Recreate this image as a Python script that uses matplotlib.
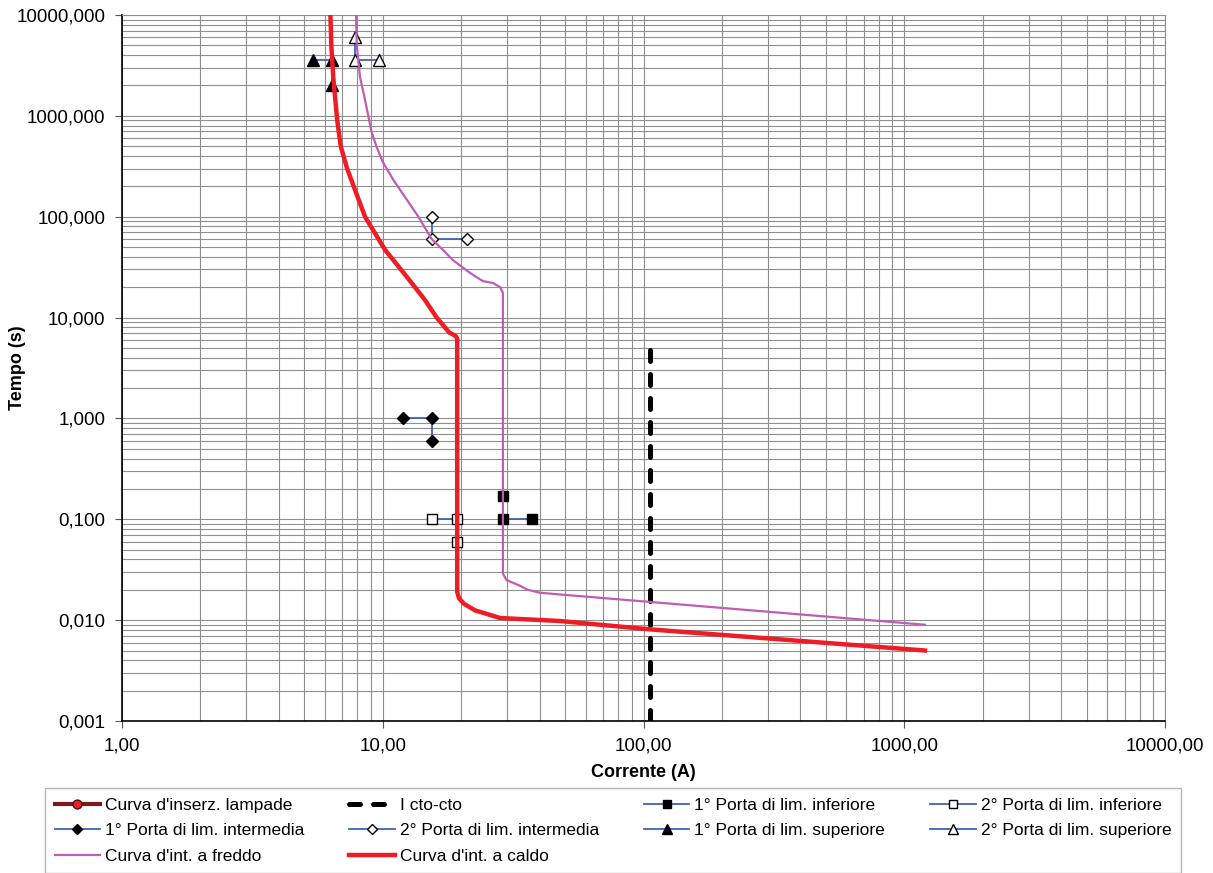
import matplotlib.pyplot as plt
from matplotlib.ticker import FixedLocator, FuncFormatter, LogLocator, NullFormatter

plt.rcParams['font.family'] = ['Liberation Sans', 'DejaVu Sans']

# curva d'intervento a caldo (A, s)
hot_x = [6.3, 6.35, 6.46, 6.69, 6.9, 7.3, 7.83, 8.55, 10.2, 12.2, 14.5, 16.1, 18.0, 19.0, 19.3,
         19.3, 19.6, 20.5, 22.6, 28.2, 47.9, 106, 1200]
hot_y = [10000, 5000, 2400, 900, 500, 300, 184, 100, 47, 26.5, 15, 10, 7.1, 6.6, 6.2,
         0.019, 0.0165, 0.0145, 0.0125, 0.0105, 0.0098, 0.0081, 0.005]

# curva d'intervento a freddo
cold_x = [7.9, 7.95, 8.18, 8.55, 8.8, 9.05, 9.45, 10.0, 11.0, 12.4, 13.7, 15.4, 17.0, 18.6, 21.5,
          24.2, 26.5, 28.2, 28.9, 28.9, 29.8, 33.5, 36, 40, 50, 1200]
cold_y = [10000, 5000, 2430, 1440, 1000, 700, 500, 350, 230, 146, 100, 60, 47, 37, 28,
          23, 22, 20, 17.5, 0.029, 0.025, 0.022, 0.020, 0.0187, 0.0178, 0.009]

# corrente di corto circuito
cto_x = [106, 106]
cto_y = [0.001, 5]

# porte di limitazione
inf1_x, inf1_y = [29, 29, 37.5], [0.17, 0.1, 0.1]
inf2_x, inf2_y = [15.5, 19.3, 19.3], [0.1, 0.1, 0.06]
int1_x, int1_y = [12, 15.5, 15.5], [1, 1, 0.6]
int2_x, int2_y = [15.5, 15.5, 21], [100, 60, 60]
sup1_x, sup1_y = [5.4, 6.4, 6.4], [3600, 3600, 2000]
sup2_x, sup2_y = [7.8, 7.8, 9.7], [6000, 3600, 3600]

blue = '#3f63b4'
grid_col = '#8f8f8f'

fig = plt.figure(figsize=(12.13, 8.73), dpi=100)
ax = fig.add_axes([122 / 1213, 1 - 721 / 873, (1165 - 122) / 1213, (721 - 15) / 873])

h_lamp, = ax.plot([], [], color='#7a1a1a', lw=3, marker='o', ms=8, mfc='#e8202a', mec='#5a0a0a',
                  label="Curva d'inserz. lampade")
h_cto, = ax.plot(cto_x, cto_y, color='black', lw=3.6, dashes=(2.2, 2.6), dash_capstyle='round',
                 label='I cto-cto', zorder=3)
h_inf1, = ax.plot(inf1_x, inf1_y, color=blue, lw=1.3, marker='s', ms=7.5, mfc='black', mec='black',
                  label='1° Porta di lim. inferiore', zorder=2)
h_inf2, = ax.plot(inf2_x, inf2_y, color=blue, lw=1.3, marker='s', ms=7.5, mfc='white', mec='black',
                  label='2° Porta di lim. inferiore', zorder=2)
h_int1, = ax.plot(int1_x, int1_y, color=blue, lw=1.3, marker='D', ms=6.5, mfc='black', mec='black',
                  label='1° Porta di lim. intermedia', zorder=2)
h_int2, = ax.plot(int2_x, int2_y, color=blue, lw=1.3, marker='D', ms=6.5, mfc='white', mec='black',
                  label='2° Porta di lim. intermedia', zorder=2)
h_sup1, = ax.plot(sup1_x, sup1_y, color=blue, lw=1.3, marker='^', ms=8.5, mfc='black', mec='black',
                  label='1° Porta di lim. superiore', zorder=2)
h_sup2, = ax.plot(sup2_x, sup2_y, color=blue, lw=1.3, marker='^', ms=8.5, mfc='white', mec='black',
                  label='2° Porta di lim. superiore', zorder=2)
h_cold, = ax.plot(cold_x, cold_y, color='#c05cb4', lw=1.6, label="Curva d'int. a freddo", zorder=4)
h_hot, = ax.plot(hot_x, hot_y, color='#ee1c25', lw=3.2, label="Curva d'int. a caldo", zorder=5)

ax.set_xscale('log')
ax.set_yscale('log')
ax.set_xlim(1, 10000)
ax.set_ylim(0.001, 10000)

ax.xaxis.set_major_locator(FixedLocator([1, 10, 100, 1000, 10000]))
ax.yaxis.set_major_locator(FixedLocator([0.001, 0.01, 0.1, 1, 10, 100, 1000, 10000]))
ax.xaxis.set_minor_locator(LogLocator(base=10, subs=range(2, 10)))
ax.yaxis.set_minor_locator(LogLocator(base=10, subs=range(2, 10)))
ax.xaxis.set_minor_formatter(NullFormatter())
ax.yaxis.set_minor_formatter(NullFormatter())
ax.xaxis.set_major_formatter(FuncFormatter(lambda v, p: f'{v:.2f}'.replace('.', ',')))
ax.yaxis.set_major_formatter(FuncFormatter(lambda v, p: f'{v:.3f}'.replace('.', ',')))

ax.grid(True, which='both', color=grid_col, lw=0.8)
ax.set_axisbelow(True)
ax.tick_params(which='major', length=5, width=0.8, color='#555555', labelsize=13.5, pad=7)
ax.tick_params(which='minor', length=0)
for s in ['top', 'right']:
    ax.spines[s].set_color(grid_col)
    ax.spines[s].set_linewidth(0.8)
for s in ['left', 'bottom']:
    ax.spines[s].set_color('black')
    ax.spines[s].set_linewidth(1.2)

ax.set_xlabel('Corrente (A)', fontsize=13, fontweight='bold', labelpad=7)
ax.set_ylabel('Tempo (s)', fontsize=13, fontweight='bold')
ax.yaxis.set_label_coords(-0.092, 0.5)

handles = [h_lamp, h_int1, h_cold, h_cto, h_int2, h_hot, h_inf1, h_sup1, h_inf2, h_sup2]
leg = fig.legend(handles=handles, labels=[h.get_label() for h in handles], ncol=4,
                 loc='upper left', bbox_to_anchor=(45 / 1213, 1 - 788 / 873), borderaxespad=0,
                 fontsize=12.5, frameon=True, fancybox=False, edgecolor='#a0a0a0',
                 handlelength=2.6, handletextpad=0.3, columnspacing=2.6, labelspacing=0.6,
                 borderpad=0.55, markerscale=0.8)
leg.get_frame().set_linewidth(1.0)

fig.savefig('out.png', dpi=100)
